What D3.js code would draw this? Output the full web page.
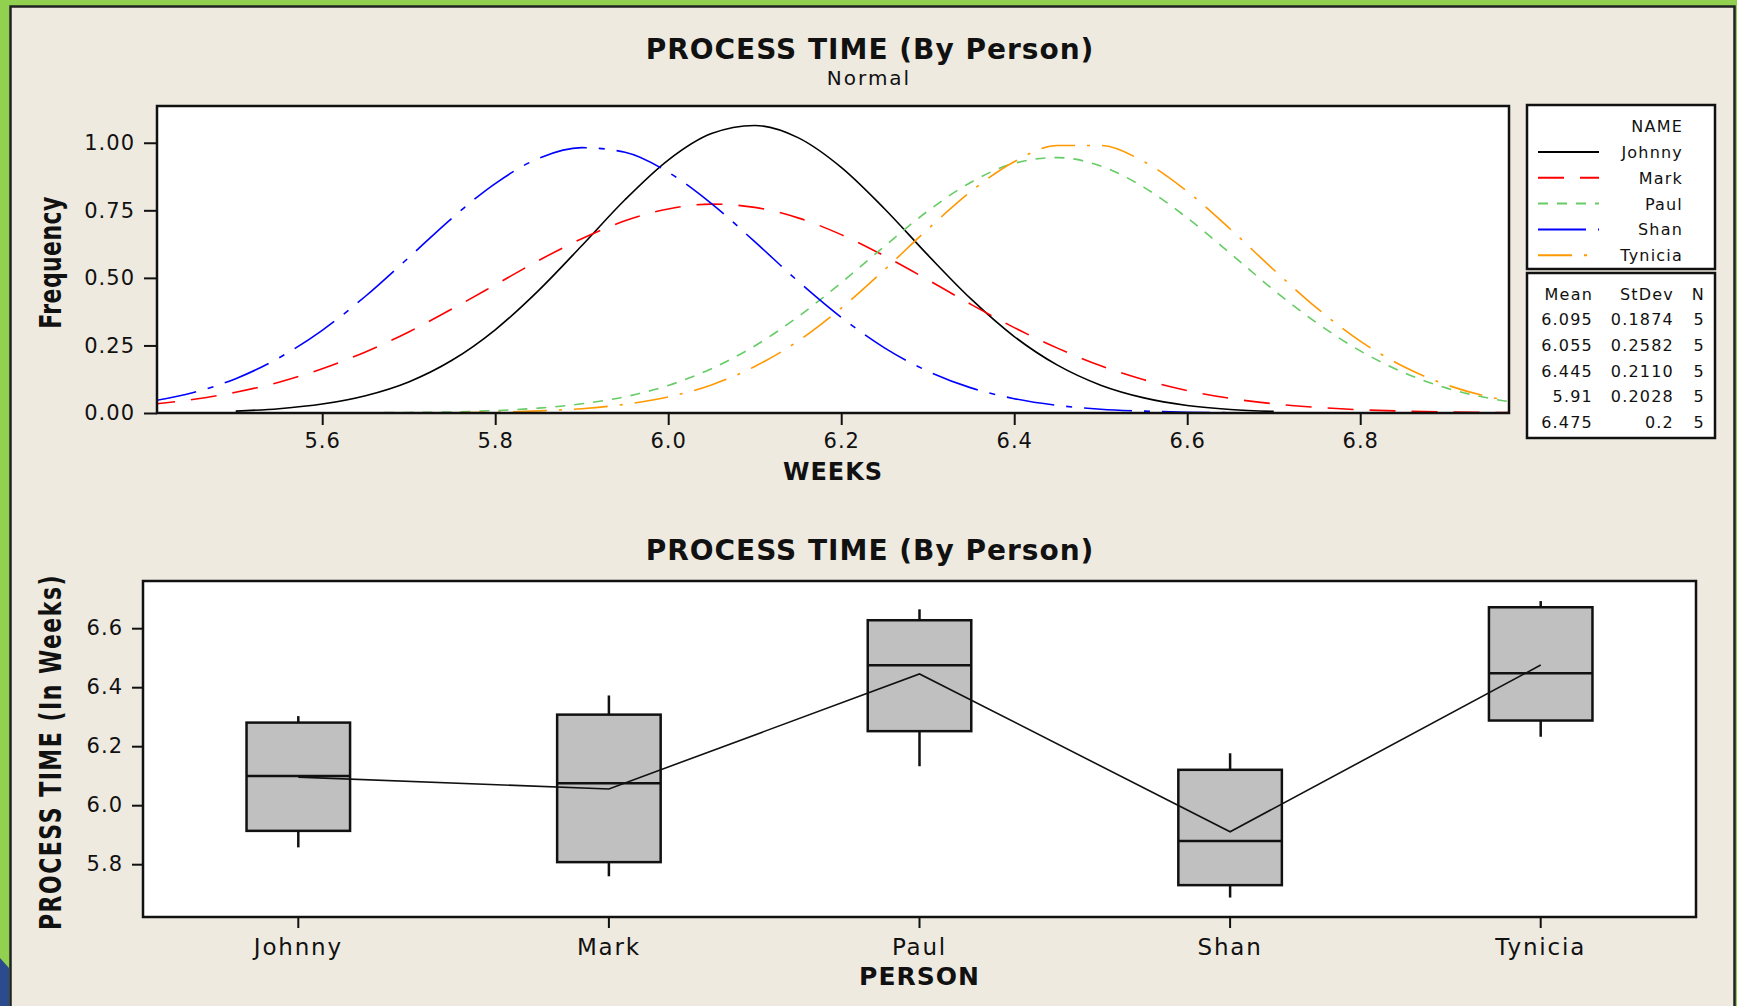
<!DOCTYPE html>
<html>
<head>
<meta charset="utf-8">
<script src="https://cdn.jsdelivr.net/npm/d3@7"></script>
<style>
  body { margin: 0; background: #92d050; }
  text { font-family: "DejaVu Sans", sans-serif; fill: #111; }
</style>
</head>
<body>
<div id="chart"></div>
<script>
// names and fitted normal parameters (from the legend table)
var names = ["Johnny", "Mark", "Paul", "Shan", "Tynicia"];
var means = [6.095, 6.055, 6.445, 5.91, 6.475];
var stdevLabels = ["0.1874", "0.2582", "0.2110", "0.2028", "0.2"];
var meanLabels = ["6.095", "6.055", "6.445", "5.91", "6.475"];
var counts = [5, 5, 5, 5, 5];

// curve points
var weeks = [5.40, 5.45, 5.50, 5.55, 5.60, 5.65, 5.70, 5.75, 5.80, 5.85, 5.90, 5.95,
             6.00, 6.05, 6.10, 6.15, 6.20, 6.25, 6.30, 6.35, 6.40, 6.45, 6.50, 6.55,
             6.60, 6.65, 6.70, 6.75, 6.80, 6.85, 6.90, 6.95, 7.00];
var johnnyFreq = [null, null, 0.007, 0.016, 0.033, 0.064, 0.115, 0.195, 0.308, 0.453, 0.619, 0.789,
                  0.936, 1.034, 1.064, 1.019, 0.909, 0.756, 0.585, 0.422, 0.283, 0.177, 0.103, 0.056,
                  0.028, 0.013, 0.006, null, null, null, null, null, null];
var markFreq = [0.031, 0.050, 0.077, 0.114, 0.164, 0.226, 0.300, 0.385, 0.474, 0.564, 0.645, 0.711,
                0.755, 0.773, 0.761, 0.722, 0.660, 0.581, 0.493, 0.402, 0.316, 0.240, 0.175, 0.123,
                0.083, 0.054, 0.034, 0.021, 0.012, 0.007, 0.004, 0.002, 0.001];
var paulFreq = [null, null, null, null, null, 0.001, 0.002, 0.004, 0.009, 0.018, 0.034, 0.060,
                0.102, 0.164, 0.248, 0.356, 0.482, 0.617, 0.747, 0.854, 0.924, 0.945, 0.914, 0.835,
                0.722, 0.590, 0.455, 0.333, 0.230, 0.150, 0.092, 0.054, 0.030];
var shanFreq = [0.042, 0.075, 0.127, 0.204, 0.306, 0.432, 0.575, 0.721, 0.849, 0.942, 0.982, 0.965,
                0.891, 0.775, 0.634, 0.488, 0.354, 0.241, 0.155, 0.093, 0.053, 0.028, 0.014, 0.007,
                0.003, 0.001, null, null, null, null, null, null, null];
var tyniciaFreq = [null, null, null, null, null, null, null, 0.001, 0.003, 0.008, 0.016, 0.032,
                   0.059, 0.104, 0.172, 0.266, 0.388, 0.530, 0.680, 0.820, 0.930, 0.990, 0.990, 0.930,
                   0.820, 0.680, 0.530, 0.388, 0.266, 0.172, 0.104, 0.059, 0.032];

// box plot values
var whiskerLow = [5.857, 5.759, 6.132, 5.687, 6.232];
var q1 = [5.913, 5.807, 6.251, 5.729, 6.287];
var medians = [6.099, 6.074, 6.474, 5.879, 6.447];
var q3 = [6.280, 6.307, 6.627, 6.120, 6.671];
var whiskerHigh = [6.302, 6.372, 6.664, 6.176, 6.692];

var weekTicks = [5.6, 5.8, 6.0, 6.2, 6.4, 6.6, 6.8];
var freqTicks = [0, 0.25, 0.5, 0.75, 1.0];
var timeTicks = [5.8, 6.0, 6.2, 6.4, 6.6];

// line styles per person
var colors = ["#000000", "#ff0000", "#66cc66", "#0000ff", "#ff9900"];
var dashes = [null, "26,16", "10,9", "48,12,6,12", "34,12,3,12"];

var width = 1737, height = 1006;

var svg = d3.select("#chart").append("svg")
    .attr("width", width)
    .attr("height", height);

// slide background and panel
svg.append("rect").attr("width", width).attr("height", height).attr("fill", "#92d050");
svg.append("path").attr("d", "M0,958 L9,968 L9,1006 L0,1006 Z").attr("fill", "#2c4a8e");
svg.append("rect")
    .attr("x", 10.5).attr("y", 6.5).attr("width", 1724).attr("height", 1010)
    .attr("fill", "#eeeae0").attr("stroke", "#222").attr("stroke-width", 2.5);

drawDensity(svg);
drawBoxes(svg);

function styleAxis(g, fontSize, spacing) {
    g.select(".domain").remove();
    g.selectAll(".tick line").attr("stroke", "#111").attr("stroke-width", 2);
    g.selectAll(".tick text")
        .attr("fill", "#111")
        .style("font-size", fontSize + "px")
        .style("letter-spacing", (spacing || 1) + "px")
        .style("font-family", "DejaVu Sans");
}

function drawDensity(svg) {
    var left = 157, right = 1509, top = 106, bottom = 413;

    var x = d3.scaleLinear().domain([5.409, 6.972]).range([left, right]);
    var y = d3.scaleLinear().domain([0, 1.136]).range([bottom, top]);

    svg.append("text").attr("x", 870).attr("y", 59).attr("text-anchor", "middle")
        .style("font-size", "28px").style("font-weight", "bold").style("letter-spacing", "1px")
        .text("PROCESS TIME (By Person)");
    svg.append("text").attr("x", 869).attr("y", 85).attr("text-anchor", "middle")
        .style("font-size", "20px").style("letter-spacing", "2px")
        .text("Normal");

    svg.append("rect")
        .attr("x", left).attr("y", top).attr("width", right - left).attr("height", bottom - top)
        .attr("fill", "#fff");

    svg.append("clipPath").attr("id", "densClip")
        .append("rect")
        .attr("x", left).attr("y", top).attr("width", right - left).attr("height", bottom - top);

    var series = [johnnyFreq, markFreq, paulFreq, shanFreq, tyniciaFreq];
    var line = d3.line()
        .defined(function(d) { return d[1] != null; })
        .x(function(d) { return x(d[0]); })
        .y(function(d) { return y(d[1]); })
        .curve(d3.curveMonotoneX);

    var curves = svg.append("g").attr("clip-path", "url(#densClip)");
    series.forEach(function(s, i) {
        var pts = weeks.map(function(w, j) { return [w, s[j]]; });
        curves.append("path")
            .attr("d", line(pts))
            .attr("fill", "none")
            .attr("stroke", colors[i])
            .attr("stroke-width", 1.6)
            .attr("stroke-dasharray", dashes[i]);
    });

    svg.append("rect")
        .attr("x", left).attr("y", top).attr("width", right - left).attr("height", bottom - top)
        .attr("fill", "none").attr("stroke", "#111").attr("stroke-width", 2.5);

    svg.append("g").attr("transform", "translate(0," + bottom + ")")
        .call(d3.axisBottom(x).tickValues(weekTicks).tickSize(12).tickPadding(8)
            .tickFormat(d3.format(".1f")))
        .call(styleAxis, 21);

    svg.append("g").attr("transform", "translate(" + left + ",0)")
        .call(d3.axisLeft(y).tickValues(freqTicks).tickSize(13).tickPadding(9)
            .tickFormat(d3.format(".2f")))
        .call(styleAxis, 21);

    svg.append("text").attr("x", (left + right) / 2).attr("y", 480).attr("text-anchor", "middle")
        .style("font-size", "24px").style("font-weight", "bold").style("letter-spacing", "1px")
        .text("WEEKS");

    svg.append("text")
        .attr("transform", "translate(61," + ((top + bottom) / 2 + 3) + ") scale(1.35,1) rotate(-90)")
        .attr("text-anchor", "middle")
        .style("font-size", "22px").style("font-weight", "bold").style("letter-spacing", "0.4px")
        .text("Frequency");

    // legend: names
    var lg = svg.append("g");
    lg.append("rect").attr("x", 1527).attr("y", 105).attr("width", 188).attr("height", 164)
        .attr("fill", "#fff").attr("stroke", "#111").attr("stroke-width", 2.5);
    lg.append("text").attr("x", 1683).attr("y", 132).attr("text-anchor", "end")
        .style("font-size", "16px").style("letter-spacing", "1.2px").text("NAME");
    names.forEach(function(n, i) {
        var yy = 152 + i * 25.8;
        lg.append("line").attr("x1", 1538).attr("x2", 1599).attr("y1", yy).attr("y2", yy)
            .attr("stroke", colors[i]).attr("stroke-width", 2)
            .attr("stroke-dasharray", dashes[i]);
        lg.append("text").attr("x", 1683).attr("y", yy + 6).attr("text-anchor", "end")
            .style("font-size", "16px").style("letter-spacing", "1.2px").text(n);
    });

    // legend: stats table
    var st = svg.append("g");
    st.append("rect").attr("x", 1527).attr("y", 273).attr("width", 188).attr("height", 165)
        .attr("fill", "#fff").attr("stroke", "#111").attr("stroke-width", 2.5);
    var cols = [1593, 1674, 1705];
    ["Mean", "StDev", "N"].forEach(function(h, k) {
        st.append("text").attr("x", cols[k]).attr("y", 300).attr("text-anchor", "end")
            .style("font-size", "16px").style("letter-spacing", "1.2px").text(h);
    });
    names.forEach(function(n, i) {
        var yy = 325 + i * 25.8;
        [meanLabels[i], stdevLabels[i], counts[i]].forEach(function(v, k) {
            st.append("text").attr("x", cols[k]).attr("y", yy).attr("text-anchor", "end")
                .style("font-size", "16px").style("letter-spacing", "1.2px").text(v);
        });
    });
}

function drawBoxes(svg) {
    var left = 143, right = 1696, top = 581, bottom = 917;

    var x = d3.scaleBand().domain(names).range([left, right]);
    var y = d3.scaleLinear().domain([5.621, 6.760]).range([bottom, top]);
    var bw = x.bandwidth() / 3;

    svg.append("text").attr("x", 870).attr("y", 560).attr("text-anchor", "middle")
        .style("font-size", "28px").style("font-weight", "bold").style("letter-spacing", "1px")
        .text("PROCESS TIME (By Person)");

    svg.append("rect")
        .attr("x", left).attr("y", top).attr("width", right - left).attr("height", bottom - top)
        .attr("fill", "#fff");

    var boxes = svg.append("g");
    names.forEach(function(n, i) {
        var cx = x(n) + x.bandwidth() / 2;
        var g = boxes.append("g");
        g.append("line").attr("x1", cx).attr("x2", cx)
            .attr("y1", y(whiskerHigh[i])).attr("y2", y(q3[i]))
            .attr("stroke", "#111").attr("stroke-width", 2.5);
        g.append("line").attr("x1", cx).attr("x2", cx)
            .attr("y1", y(q1[i])).attr("y2", y(whiskerLow[i]))
            .attr("stroke", "#111").attr("stroke-width", 2.5);
        g.append("rect")
            .attr("x", cx - bw / 2).attr("width", bw)
            .attr("y", y(q3[i])).attr("height", y(q1[i]) - y(q3[i]))
            .attr("fill", "#c0c0c0").attr("stroke", "#111").attr("stroke-width", 2.5);
        g.append("line").attr("x1", cx - bw / 2).attr("x2", cx + bw / 2)
            .attr("y1", y(medians[i])).attr("y2", y(medians[i]))
            .attr("stroke", "#111").attr("stroke-width", 2.5);
    });

    // mean connect line
    var meanLine = d3.line()
        .x(function(d) { return x(d[0]) + x.bandwidth() / 2; })
        .y(function(d) { return y(d[1]); });
    svg.append("path")
        .attr("d", meanLine(names.map(function(n, i) { return [n, means[i]]; })))
        .attr("fill", "none").attr("stroke", "#111").attr("stroke-width", 1.6);

    svg.append("rect")
        .attr("x", left).attr("y", top).attr("width", right - left).attr("height", bottom - top)
        .attr("fill", "none").attr("stroke", "#111").attr("stroke-width", 2.5);

    svg.append("g").attr("transform", "translate(0," + bottom + ")")
        .call(d3.axisBottom(x).tickSize(11).tickPadding(11))
        .call(styleAxis, 23, 1.8);

    svg.append("g").attr("transform", "translate(" + left + ",0)")
        .call(d3.axisLeft(y).tickValues(timeTicks).tickSize(11).tickPadding(9)
            .tickFormat(d3.format(".1f")))
        .call(styleAxis, 21);

    svg.append("text").attr("x", (left + right) / 2).attr("y", 985).attr("text-anchor", "middle")
        .style("font-size", "25px").style("font-weight", "bold").style("letter-spacing", "1px")
        .text("PERSON");

    svg.append("text")
        .attr("transform", "translate(61," + ((top + bottom) / 2 + 3) + ") scale(1.35,1) rotate(-90)")
        .attr("text-anchor", "middle")
        .style("font-size", "22px").style("font-weight", "bold").style("letter-spacing", "1.5px")
        .text("PROCESS TIME (In Weeks)");
}
</script>
</body>
</html>
